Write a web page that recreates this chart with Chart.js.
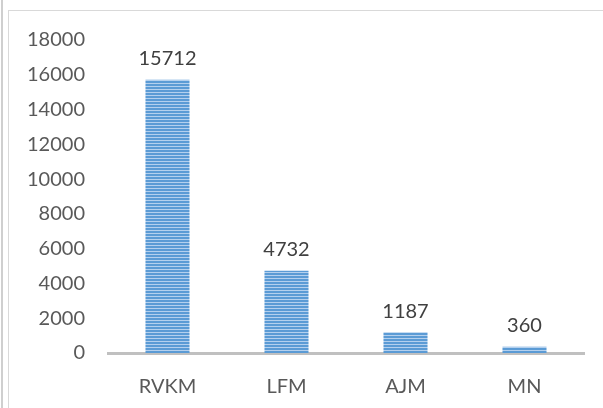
<!DOCTYPE html>
<html>
<head>
    <title>Counts by group</title>
    <script src="https://cdn.jsdelivr.net/npm/chart.js"></script>
    <style>
        html, body {
            margin: 0;
            padding: 0;
            background: #ffffff;
        }
        #wrap {
            position: relative;
            width: 603px;
            height: 408px;
            overflow: hidden;
        }
        .edge-outer {
            position: absolute;
            left: 1px;
            top: 0;
            width: 2px;
            height: 408px;
            background: #cfcfcf;
        }
        .frame {
            position: absolute;
            left: 8px;
            top: 10px;
            width: 600px;
            height: 410px;
            border-left: 1px solid #d9d9d9;
            border-top: 1px solid #d9d9d9;
            box-sizing: border-box;
        }
        #chartBox {
            position: absolute;
            left: 0;
            top: 0;
            width: 603px;
            height: 408px;
        }
    </style>
</head>
<body>
<div id="wrap">
    <div class="edge-outer"></div>
    <div class="frame"></div>
    <div id="chartBox"><canvas id="barChart"></canvas></div>
</div>

<script>
    const categories = ["RVKM", "LFM", "AJM", "MN"];
    const values = [15712, 4732, 1187, 360];
    const yTicks = [0, 2000, 4000, 6000, 8000, 10000, 12000, 14000, 16000, 18000];

    const FONT = "Lato, 'Open Sans', sans-serif";

    // striped fill like the original bars
    function stripePattern() {
        const c = document.createElement("canvas");
        c.width = 4;
        c.height = 3;
        const g = c.getContext("2d");
        g.fillStyle = "#5b9bd5";
        g.fillRect(0, 0, 4, 2);
        g.fillStyle = "#b4d0ee";
        g.fillRect(0, 2, 4, 1);
        return g.createPattern(c, "repeat");
    }

    // value above each bar
    const valueLabels = {
        id: "valueLabels",
        afterDatasetsDraw(chart) {
            const ctx = chart.ctx;
            const meta = chart.getDatasetMeta(0);
            ctx.save();
            ctx.font = "20px " + FONT;
            ctx.fillStyle = "#404040";
            ctx.textAlign = "center";
            ctx.textBaseline = "bottom";
            meta.data.forEach((bar, i) => {
                ctx.fillText(values[i], bar.x, bar.y - 11);
            });
            ctx.restore();
        }
    };

    const ctx = document.getElementById("barChart").getContext("2d");
    new Chart(ctx, {
        type: "bar",
        data: {
            labels: categories,
            datasets: [{
                data: values,
                backgroundColor: stripePattern(),
                borderWidth: 0,
                barPercentage: 0.37,
                categoryPercentage: 1
            }]
        },
        options: {
            responsive: true,
            maintainAspectRatio: false,
            animation: false,
            layout: {
                padding: { top: 40, right: 19, bottom: 0, left: 0 }
            },
            plugins: {
                legend: { display: false },
                tooltip: { enabled: false }
            },
            scales: {
                x: {
                    grid: { display: false },
                    border: { display: true, color: "#c0c0c0", width: 3 },
                    ticks: {
                        color: "#595959",
                        font: { family: FONT, size: 20 },
                        padding: 14
                    },
                    afterFit: scale => { scale.height = 55; }
                },
                y: {
                    min: 0,
                    max: 18000,
                    grid: { display: false },
                    border: { display: false },
                    afterBuildTicks: scale => {
                        scale.ticks = yTicks.map(v => ({ value: v }));
                    },
                    ticks: {
                        color: "#595959",
                        font: { family: FONT, size: 20 },
                        padding: 15,
                        callback: v => String(v)
                    },
                    afterFit: scale => { scale.width = 108; }
                }
            }
        },
        plugins: [valueLabels]
    });
</script>
</body>
</html>
